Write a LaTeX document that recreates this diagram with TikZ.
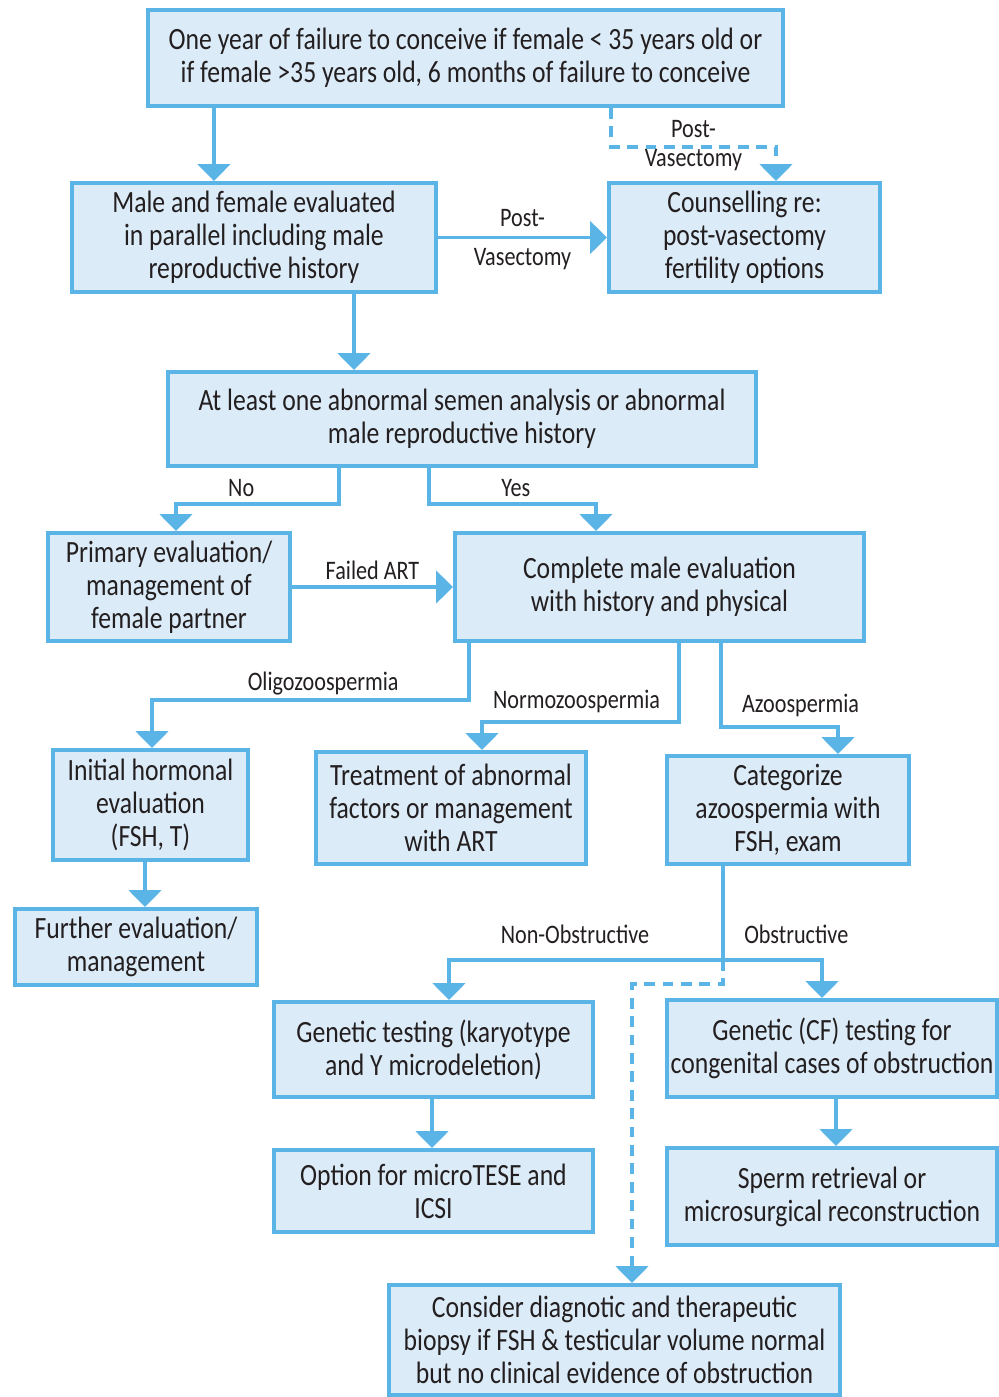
\documentclass[tikz,border=0pt]{standalone}
\usepackage{fontspec}
\setmainfont[FakeStretch=0.83]{Carlito}
\usetikzlibrary{positioning,arrows.meta,calc}
\definecolor{lineblue}{HTML}{5AB4E6}
\definecolor{boxfill}{HTML}{DCEBF8}
\definecolor{inkgray}{HTML}{231F20}
\tikzset{
  box/.style={draw=lineblue,fill=boxfill,line width=2.8pt,align=center,inner sep=0pt,
    text=inkgray,font=\fontsize{22pt}{23.6pt}\selectfont},
  arr/.style={draw=lineblue,line width=2.8pt,-{Triangle[width=0.8cm,length=0.42cm]}},
  dasharr/.style={arr,dash pattern=on 0.27cm off 0.19cm},
  lab/.style={text=inkgray,font=\fontsize{19pt}{21pt}\selectfont,inner sep=2pt}
}
\begin{document}
\begin{tikzpicture}[x=0.025cm,y=-0.025cm]
\clip (0,0) rectangle (999,1397);
\fill[white] (0,0) rectangle (999,1397);
% boxes
\node[box,minimum width=15.875cm,minimum height=2.4cm] (top) at (465.5,58)
  {One year of failure to conceive if female < 35 years old or\\if female >35 years old, 6 months of failure to conceive};
\node[box,minimum width=9.1cm,minimum height=2.725cm] (male) at (254,237.5)
  {Male and female evaluated\\in parallel including male\\reproductive history};
\node[box,minimum width=6.775cm,minimum height=2.725cm] (couns) at (744.5,237.5)
  {Counselling re:\\post-vasectomy\\fertility options};
\node[box,minimum width=14.7cm,minimum height=2.35cm] (abn) at (462,419)
  {At least one abnormal semen analysis or abnormal\\male reproductive history};
\node[box,minimum width=6.05cm,minimum height=2.7cm] (prim) at (169,587)
  {Primary evaluation/\\management of\\female partner};
\node[box,minimum width=10.225cm,minimum height=2.7cm] (compl) at (659.5,587)
  {Complete male evaluation\\with history and physical};
\node[box,minimum width=4.875cm,minimum height=2.75cm] (init) at (150.5,805)
  {Initial hormonal\\evaluation\\(FSH, T)};
\node[box,minimum width=6.75cm,minimum height=2.8cm] (treat) at (451,808)
  {Treatment of abnormal\\factors or management\\with ART};
\node[box,minimum width=6.05cm,minimum height=2.7cm] (categ) at (788,810)
  {Categorize\\azoospermia with\\FSH, exam};
\node[box,minimum width=6.05cm,minimum height=1.9cm] (further) at (136,947)
  {Further evaluation/\\management};
\node[box,minimum width=7.975cm,minimum height=2.375cm] (genet) at (433.5,1049.5)
  {Genetic testing (karyotype\\and Y microdeletion)};
\node[box,minimum width=8.25cm,minimum height=2.425cm] (cf) at (832,1048.5)
  {Genetic (CF) testing for\\congenital cases of obstruction};
\node[box,minimum width=7.975cm,minimum height=2.05cm] (option) at (433.5,1191)
  {Option for microTESE and\\ICSI};
\node[box,minimum width=8.25cm,minimum height=2.425cm] (sperm) at (832,1196.5)
  {Sperm retrieval or\\microsurgical reconstruction};
\node[box,minimum width=11.275cm,minimum height=2.75cm] (consider) at (614.5,1340)
  {Consider diagnotic and therapeutic\\biopsy if FSH \& testicular volume normal\\but no clinical evidence of obstruction};
% connectors
\draw[arr] ($(top.south west)+(68,0)$) coordinate (t1) -- (t1 |- male.north);
\draw[dasharr] ($(top.south east)+(-174,0)$) -- ++(0,39)
  -| node[pos=0.25,lab,above=3pt]{Post-} node[pos=0.25,lab,below=-2pt]{Vasectomy}
  ($(couns.north)+(31.5,0)$);
\draw[arr] (male.east) -- node[lab,above=4pt]{Post-} node[lab,below=4pt]{Vasectomy} (couns.west);
\draw[arr] ($(male.south west)+(284,0)$) coordinate (m1) -- (m1 |- abn.north);
\draw[arr] ($(abn.south west)+(173,0)$) -- ++(0,36)
  -| node[pos=0.3,lab,above=2pt]{No} ($(prim.north)+(7,0)$);
\draw[arr] ($(abn.south west)+(263,0)$) -- ++(0,36)
  -| node[pos=0.26,lab,above=2pt]{Yes} ($(compl.north west)+(143,0)$);
\draw[arr] (prim.east) -- node[lab,above=2pt]{Failed ART} (compl.west);
\draw[arr] ($(compl.south west)+(16,0)$) -- ++(0,57)
  -| node[pos=0.23,lab,above]{Oligozoospermia} ($(init.north)+(1.5,0)$);
\draw[arr] ($(compl.south west)+(226,0)$) -- ++(0,79)
  -| node[pos=0.26,lab,above=3pt]{Normozoospermia} ($(treat.north)+(31,0)$);
\draw[arr] ($(compl.south west)+(268,0)$) -- ++(0,84)
  -| node[pos=0.34,lab,above=4pt]{Azoospermia} ($(categ.north)+(50,0)$);
\draw[arr] ($(init.south)+(-5.5,0)$) coordinate (i1) -- (i1 |- further.north);
\draw[arr] ($(categ.south west)+(58,0)$) coordinate (c1) -- ++(0,94) coordinate (c2)
  -| node[pos=0.27,lab,above=8pt]{Non-Obstructive} ($(genet.north)+(15.5,0)$);
\draw[arr] (c2) -| node[pos=0.37,lab,above=8pt]{Obstructive} ($(cf.north)+(-10,0)$);
\draw[dasharr] (c2) -- ++(0,24) -| ($(consider.north)+(17.5,0)$);
\draw[arr] ($(genet.south)+(-1.5,0)$) coordinate (g1) -- (g1 |- option.north);
\draw[arr] ($(cf.south)+(4,0)$) coordinate (f1) -- (f1 |- sperm.north);
\end{tikzpicture}
\end{document}
